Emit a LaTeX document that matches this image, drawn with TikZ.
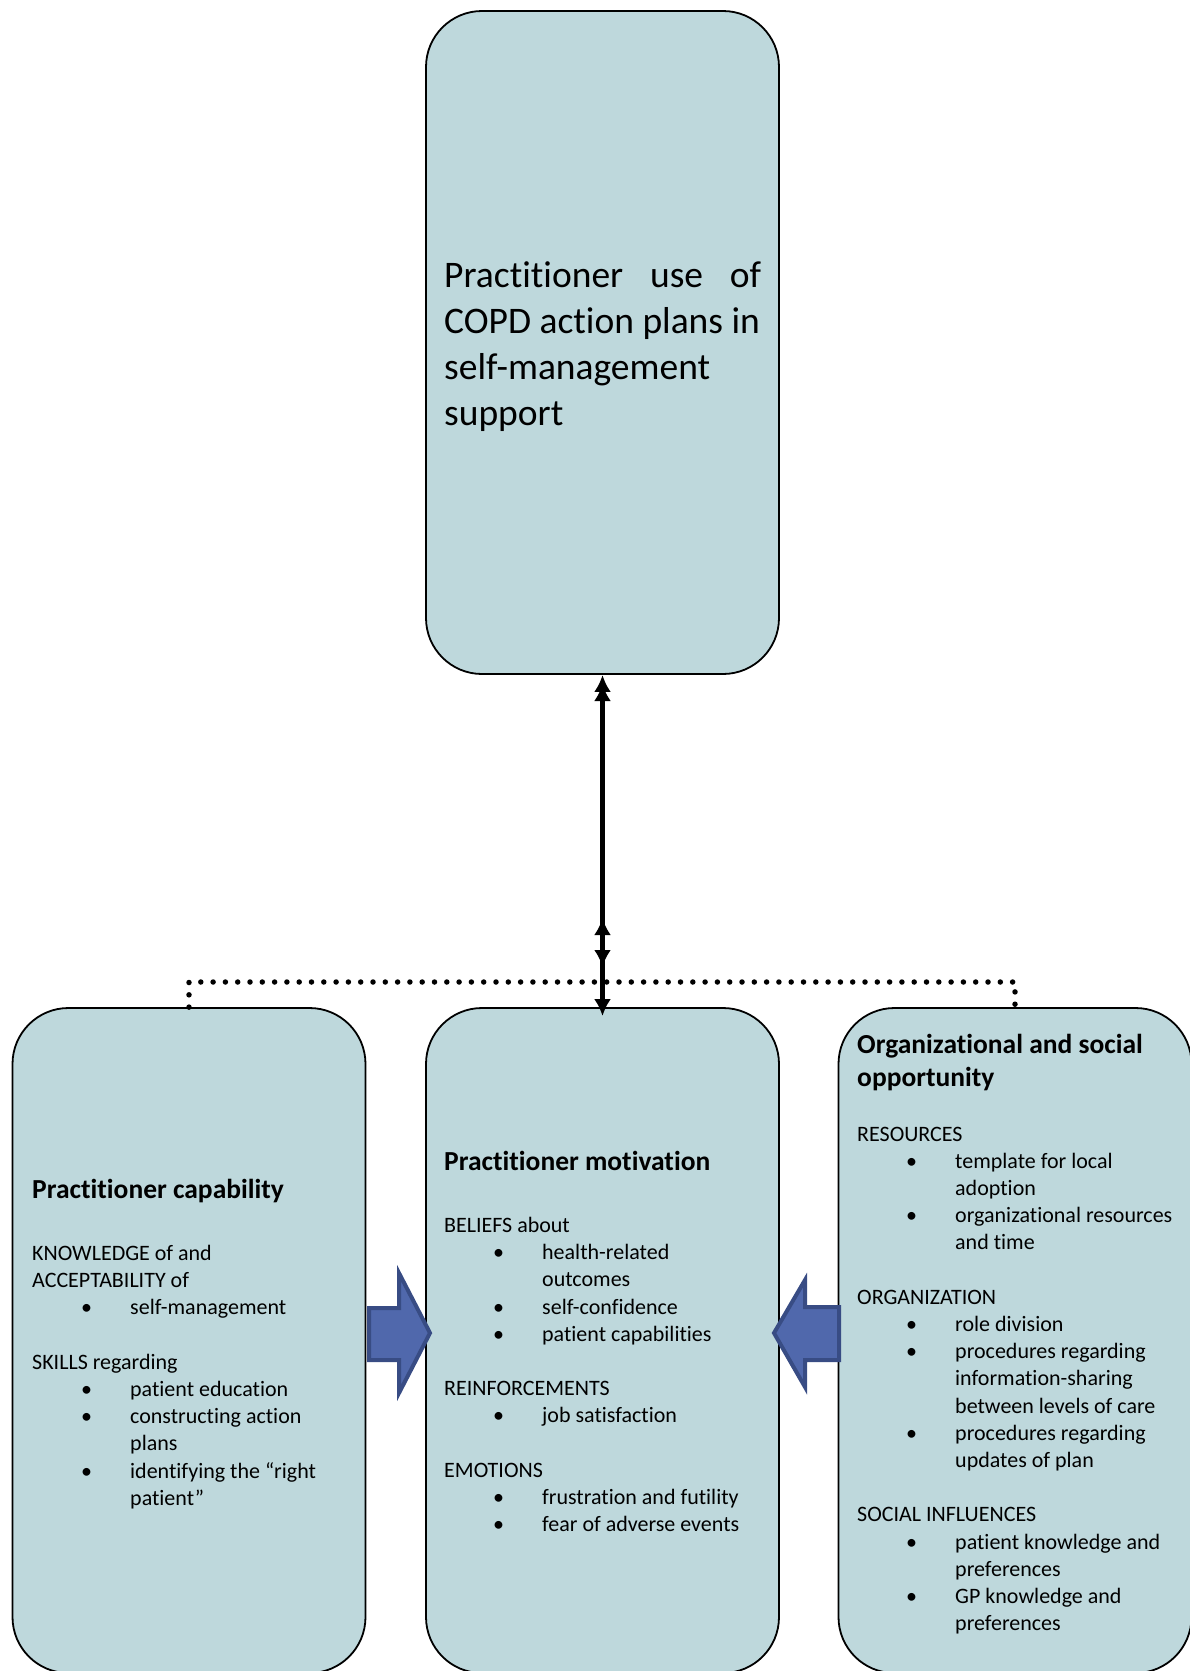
\documentclass[tikz,border=0pt]{standalone}
\usepackage{fontspec}
\setmainfont{Carlito}[Ligatures=NoCommon]
\usetikzlibrary{arrows.meta}
\definecolor{boxfill}{RGB}{190,216,220}
\definecolor{arrfill}{RGB}{80,104,172}
\definecolor{arrline}{RGB}{56,76,132}
\newcommand\bitem[1]{\hspace*{49pt}\makebox[49pt][l]{\textbullet}#1}
\newcommand\citem[1]{\hspace*{98pt}#1}
\newcommand\bodyfont{\fontsize{22}{27.2}\selectfont}
\newcommand\headfont{\fontsize{27.5}{33}\selectfont\bfseries}
\begin{document}
\begin{tikzpicture}[x=1pt,y=-1pt,
  box/.style={draw=black, line width=1.8pt, fill=boxfill, rounded corners=56pt, inner sep=0pt, minimum width=353pt},
  conn/.style={line width=5pt, black},
  tipA/.style={-{Latex[length=17pt,width=17pt]}},
  tipAB/.style={{Latex[length=17pt,width=17pt]}-{Latex[length=17pt,width=17pt]}},
  dotline/.style={line width=5.5pt, line cap=round, dash pattern=on 0pt off 12.3pt},
  blockarrow/.style={fill=arrfill, draw=arrline, line width=4pt, line join=miter},
  txt/.style={anchor=base west, inner sep=0pt}]
\useasboundingbox (0,0) rectangle (1190,1671);
\clip (0,0) rectangle (1190,1671);

% boxes
\node[box, minimum height=663pt] (top) at (602.5,342.5) {};
\node[box, minimum height=665pt] (lbox) at (189,1340.5) {};
\node[box, minimum height=665pt] (mbox) at (602.5,1340.5) {};
\node[box, minimum height=665pt] (rbox) at (1015,1340.5) {};

% dotted connector
\coordinate (dl) at (602.5,982);
\draw[dotline] (lbox.north) |- (dl) -| (rbox.north);

% vertical arrows
\coordinate (c1) at (602.5,967);
\coordinate (c2) at (602.5,918);
\coordinate (c3) at (602.5,684);
\coordinate (c4) at (602.5,800);
\draw[conn, tipAB] (top.south) -- (c1);
\draw[conn, tipAB] (c2) -- ([yshift=-9pt]mbox.north);
\draw[conn, tipA] (c4) -- (c3);

% block arrows
\draw[blockarrow] (369,1308) -- (399,1308) -- (399,1273) -- (430,1333) -- (399,1393) -- (399,1360) -- (369,1360) -- cycle;
\draw[blockarrow] (839,1307) -- (805,1307) -- (805,1280) -- (774,1333) -- (805,1387) -- (805,1360) -- (839,1360) -- cycle;

% top text
\node[txt] (toptext) at (444,287) {\parbox[t]{360pt}{\fontsize{37.5}{46}\selectfont\makebox[317pt][s]{Practitioner\hfill use\hfill of}\\COPD action plans in\\self-management\\support}};

% left box text
\node[txt] (lhead) at (32,1198.5) {\parbox[t]{330pt}{\headfont Practitioner capability}};
\node[txt] (lbody) at (32,1260.5) {\parbox[t]{330pt}{\bodyfont
KNOWLEDGE of and\\
ACCEPTABILITY of\\
\bitem{self-management}\\[27.2pt]
SKILLS regarding\\
\bitem{patient education}\\
\bitem{constructing action}\\
\citem{plans}\\
\bitem{identifying the “right}\\
\citem{patient”}}};

% middle box text
\node[txt] (mhead) at (444,1170.5) {\parbox[t]{330pt}{\headfont Practitioner motivation}};
\node[txt] (mbody) at (444,1232.5) {\parbox[t]{330pt}{\bodyfont
BELIEFS about\\
\bitem{health-related}\\
\citem{outcomes}\\
\bitem{self-confidence}\\
\bitem{patient capabilities}\\[27.2pt]
REINFORCEMENTS\\
\bitem{job satisfaction}\\[27.2pt]
EMOTIONS\\
\bitem{frustration and futility}\\
\bitem{fear of adverse events}}};

% right box text
\node[txt] (rhead) at (857,1053.5) {\parbox[t]{330pt}{\headfont Organizational and social\\opportunity}};
\node[txt] (rbody) at (857,1141) {\parbox[t]{340pt}{\bodyfont
RESOURCES\\
\bitem{template for local}\\
\citem{adoption}\\
\bitem{organizational resources}\\
\citem{and time}\\[27.2pt]
ORGANIZATION\\
\bitem{role division}\\
\bitem{procedures regarding}\\
\citem{information-sharing}\\
\citem{between levels of care}\\
\bitem{procedures regarding}\\
\citem{updates of plan}\\[27.2pt]
SOCIAL INFLUENCES\\
\bitem{patient knowledge and}\\
\citem{preferences}\\
\bitem{GP knowledge and}\\
\citem{preferences}}};
\end{tikzpicture}
\end{document}
